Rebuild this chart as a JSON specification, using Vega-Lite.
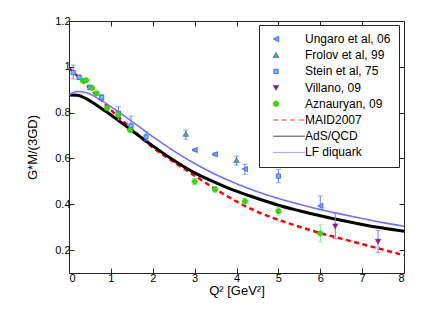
{
  "$schema": "https://vega.github.io/schema/vega-lite/v6.json",
  "width": 335,
  "height": 252,
  "padding": {"left": 69, "top": 21, "right": 27, "bottom": 37},
  "autosize": {"type": "none"},
  "background": "white",
  "config": {
    "view": {"stroke": "#262626", "strokeWidth": 1},
    "font": "Liberation Sans",
    "axis": {"labelFont": "Liberation Sans", "titleFont": "Liberation Sans", "labelColor": "#000", "titleColor": "#000", "domainColor": "#262626", "tickColor": "#262626", "grid": false, "labelFontSize": 11, "titleFontSize": 13, "titleFontWeight": "normal"},
    "legend": {"title": null, "orient": "none", "legendX": 190, "legendY": 4, "strokeColor": "#262626", "fillColor": "white", "padding": 8, "labelFont": "Liberation Sans", "labelFontSize": 12, "labelColor": "#000", "symbolSize": 30, "symbolOffset": 3, "labelOffset": 23, "rowPadding": 4.2}
  },
  "datasets": {
    "pts": [
      {"series": "Stein et al, 75", "q2": 0.10, "g": 0.975, "lo": 0.947, "hi": 1.008},
      {"series": "Stein et al, 75", "q2": 0.24, "g": 0.954, "lo": 0.944, "hi": 0.964},
      {"series": "Stein et al, 75", "q2": 0.50, "g": 0.910, "lo": 0.900, "hi": 0.920},
      {"series": "Stein et al, 75", "q2": 0.78, "g": 0.866, "lo": 0.853, "hi": 0.879},
      {"series": "Stein et al, 75", "q2": 1.18, "g": 0.797, "lo": 0.768, "hi": 0.826},
      {"series": "Stein et al, 75", "q2": 1.48, "g": 0.742, "lo": 0.717, "hi": 0.785},
      {"series": "Stein et al, 75", "q2": 1.84, "g": 0.694, "lo": 0.677, "hi": 0.717},
      {"series": "Stein et al, 75", "q2": 5.00, "g": 0.523, "lo": 0.494, "hi": 0.552},
      {"series": "Ungaro et al, 06", "q2": 3.00, "g": 0.637, "lo": 0.632, "hi": 0.642},
      {"series": "Ungaro et al, 06", "q2": 3.48, "g": 0.618, "lo": 0.612, "hi": 0.624},
      {"series": "Ungaro et al, 06", "q2": 4.20, "g": 0.554, "lo": 0.531, "hi": 0.575},
      {"series": "Ungaro et al, 06", "q2": 6.00, "g": 0.393, "lo": 0.375, "hi": 0.436},
      {"series": "Frolov et al, 99", "q2": 2.79, "g": 0.706, "lo": 0.684, "hi": 0.724},
      {"series": "Frolov et al, 99", "q2": 4.00, "g": 0.592, "lo": 0.571, "hi": 0.610},
      {"series": "Villano, 09", "q2": 6.36, "g": 0.305, "lo": 0.250, "hi": 0.360},
      {"series": "Villano, 09", "q2": 7.38, "g": 0.238, "lo": 0.189, "hi": 0.286},
      {"series": "Aznauryan, 09", "q2": 0.33, "g": 0.940, "lo": 0.935, "hi": 0.945},
      {"series": "Aznauryan, 09", "q2": 0.41, "g": 0.941, "lo": 0.936, "hi": 0.946},
      {"series": "Aznauryan, 09", "q2": 0.55, "g": 0.908, "lo": 0.903, "hi": 0.913},
      {"series": "Aznauryan, 09", "q2": 0.66, "g": 0.884, "lo": 0.879, "hi": 0.889},
      {"series": "Aznauryan, 09", "q2": 0.91, "g": 0.820, "lo": 0.814, "hi": 0.826},
      {"series": "Aznauryan, 09", "q2": 1.18, "g": 0.790, "lo": 0.784, "hi": 0.796},
      {"series": "Aznauryan, 09", "q2": 1.46, "g": 0.724, "lo": 0.716, "hi": 0.732},
      {"series": "Aznauryan, 09", "q2": 3.00, "g": 0.499, "lo": 0.486, "hi": 0.512},
      {"series": "Aznauryan, 09", "q2": 3.49, "g": 0.465, "lo": 0.452, "hi": 0.478},
      {"series": "Aznauryan, 09", "q2": 4.20, "g": 0.413, "lo": 0.400, "hi": 0.426},
      {"series": "Aznauryan, 09", "q2": 5.00, "g": 0.370, "lo": 0.352, "hi": 0.388},
      {"series": "Aznauryan, 09", "q2": 6.00, "g": 0.273, "lo": 0.237, "hi": 0.310}
    ],
    "curves": [
      {"series": "MAID2007", "q2": 0.0, "g": 0.995},
      {"series": "MAID2007", "q2": 0.25, "g": 0.950},
      {"series": "MAID2007", "q2": 0.5, "g": 0.905},
      {"series": "MAID2007", "q2": 0.75, "g": 0.858},
      {"series": "MAID2007", "q2": 1.0, "g": 0.812},
      {"series": "MAID2007", "q2": 1.5, "g": 0.728},
      {"series": "MAID2007", "q2": 2.0, "g": 0.648},
      {"series": "MAID2007", "q2": 2.5, "g": 0.585},
      {"series": "MAID2007", "q2": 3.0, "g": 0.525},
      {"series": "MAID2007", "q2": 3.5, "g": 0.466},
      {"series": "MAID2007", "q2": 4.0, "g": 0.412},
      {"series": "MAID2007", "q2": 4.5, "g": 0.367},
      {"series": "MAID2007", "q2": 5.0, "g": 0.332},
      {"series": "MAID2007", "q2": 5.5, "g": 0.302},
      {"series": "MAID2007", "q2": 6.0, "g": 0.274},
      {"series": "MAID2007", "q2": 6.5, "g": 0.250},
      {"series": "MAID2007", "q2": 7.0, "g": 0.226},
      {"series": "MAID2007", "q2": 7.5, "g": 0.202},
      {"series": "MAID2007", "q2": 8.0, "g": 0.178},
      {"series": "AdS/QCD", "q2": 0.0, "g": 0.877},
      {"series": "AdS/QCD", "q2": 0.2, "g": 0.876},
      {"series": "AdS/QCD", "q2": 0.4, "g": 0.862},
      {"series": "AdS/QCD", "q2": 0.6, "g": 0.840},
      {"series": "AdS/QCD", "q2": 0.8, "g": 0.815},
      {"series": "AdS/QCD", "q2": 1.0, "g": 0.790},
      {"series": "AdS/QCD", "q2": 1.5, "g": 0.722},
      {"series": "AdS/QCD", "q2": 2.0, "g": 0.655},
      {"series": "AdS/QCD", "q2": 2.5, "g": 0.592},
      {"series": "AdS/QCD", "q2": 3.0, "g": 0.537},
      {"series": "AdS/QCD", "q2": 3.5, "g": 0.495},
      {"series": "AdS/QCD", "q2": 4.0, "g": 0.457},
      {"series": "AdS/QCD", "q2": 4.5, "g": 0.425},
      {"series": "AdS/QCD", "q2": 5.0, "g": 0.396},
      {"series": "AdS/QCD", "q2": 5.5, "g": 0.372},
      {"series": "AdS/QCD", "q2": 6.0, "g": 0.350},
      {"series": "AdS/QCD", "q2": 6.5, "g": 0.330},
      {"series": "AdS/QCD", "q2": 7.0, "g": 0.312},
      {"series": "AdS/QCD", "q2": 7.5, "g": 0.296},
      {"series": "AdS/QCD", "q2": 8.0, "g": 0.282},
      {"series": "LF diquark", "q2": 0.0, "g": 0.877},
      {"series": "LF diquark", "q2": 0.2, "g": 0.892},
      {"series": "LF diquark", "q2": 0.4, "g": 0.888},
      {"series": "LF diquark", "q2": 0.6, "g": 0.872},
      {"series": "LF diquark", "q2": 0.8, "g": 0.850},
      {"series": "LF diquark", "q2": 1.0, "g": 0.826},
      {"series": "LF diquark", "q2": 1.5, "g": 0.762},
      {"series": "LF diquark", "q2": 2.0, "g": 0.695},
      {"series": "LF diquark", "q2": 2.5, "g": 0.633},
      {"series": "LF diquark", "q2": 3.0, "g": 0.578},
      {"series": "LF diquark", "q2": 3.5, "g": 0.530},
      {"series": "LF diquark", "q2": 4.0, "g": 0.490},
      {"series": "LF diquark", "q2": 4.5, "g": 0.455},
      {"series": "LF diquark", "q2": 5.0, "g": 0.425},
      {"series": "LF diquark", "q2": 5.5, "g": 0.400},
      {"series": "LF diquark", "q2": 6.0, "g": 0.377},
      {"series": "LF diquark", "q2": 6.5, "g": 0.357},
      {"series": "LF diquark", "q2": 7.0, "g": 0.338},
      {"series": "LF diquark", "q2": 7.5, "g": 0.320},
      {"series": "LF diquark", "q2": 8.0, "g": 0.304}
    ]
  },
  "layer": [
    {
      "data": {"name": "curves"},
      "transform": [{"filter": "datum.series == 'MAID2007'"}],
      "mark": {"type": "line", "color": "#ff0000", "strokeWidth": 2.5, "strokeDash": [5, 3.5], "interpolate": "monotone", "clip": true},
      "encoding": {
        "x": {"field": "q2", "type": "quantitative", "scale": {"domain": [0, 8], "nice": false, "zero": false},
          "axis": {"orient": "top", "labels": false, "title": null, "values": [0,1,2,3,4,5,6,7,8], "tickSize": -5, "domain": false}},
        "y": {"field": "g", "type": "quantitative", "scale": {"domain": [0.1, 1.2], "nice": false, "zero": false},
          "axis": {"orient": "right", "labels": false, "title": null, "values": [0.2,0.4,0.6,0.8,1,1.2], "tickSize": -5, "domain": false}}
      }
    },
    {
      "data": {"name": "curves"},
      "transform": [{"filter": "datum.series == 'AdS/QCD'"}],
      "mark": {"type": "line", "color": "#000000", "strokeWidth": 3, "interpolate": "monotone", "clip": true},
      "encoding": {
        "x": {"field": "q2", "type": "quantitative", "axis": null},
        "y": {"field": "g", "type": "quantitative", "axis": null}
      }
    },
    {
      "data": {"name": "curves"},
      "transform": [{"filter": "datum.series == 'LF diquark'"}],
      "mark": {"type": "line", "color": "#7070ff", "strokeWidth": 1.6, "interpolate": "monotone", "clip": true},
      "encoding": {
        "x": {"field": "q2", "type": "quantitative", "axis": null},
        "y": {"field": "g", "type": "quantitative", "axis": null}
      }
    },
    {
      "data": {"name": "pts"},
      "mark": {"type": "errorbar", "ticks": {"size": 5}, "thickness": 1},
      "encoding": {
        "x": {"field": "q2", "type": "quantitative", "axis": null},
        "y": {"field": "lo", "type": "quantitative", "axis": null},
        "y2": {"field": "hi"},
        "color": {"condition": {"test": "datum.series == 'Aznauryan, 09'", "value": "#90dd90"}, "value": "#7080ff"}
      }
    },
    {
      "data": {"name": "pts"},
      "mark": {"type": "point", "filled": true, "size": 28, "opacity": 1},
      "encoding": {
        "x": {"field": "q2", "type": "quantitative",
          "axis": {"orient": "bottom", "title": "Q² [GeV²]", "values": [0,1,2,3,4,5,6,7,8], "tickSize": -5, "labelPadding": 4, "titlePadding": 1, "domain": false}},
        "y": {"field": "g", "type": "quantitative",
          "axis": {"orient": "left", "title": "G*M/(3GD)", "values": [0.2,0.4,0.6,0.8,1,1.2], "format": "~g", "tickSize": -5, "labelPadding": 4, "titlePadding": 15, "domain": false}},
        "shape": {"field": "series", "type": "nominal", "title": null,
          "scale": {"domain": ["Ungaro et al, 06", "Frolov et al, 99", "Stein et al, 75", "Villano, 09", "Aznauryan, 09", "MAID2007", "AdS/QCD", "LF diquark"],
                    "range": ["M-1,0L1,-1L1,1Z", "M0,-1L1,0.8L-1,0.8Z", "M-0.8,-0.8H0.8V0.8H-0.8Z", "M0,1L1,-0.8L-1,-0.8Z", "M1,0A1,1,0,1,1,-1,0A1,1,0,1,1,1,0Z", "M-1,0H10.6", "M-1,0H10.6", "M-1,0H10.6"]}},
        "stroke": {"field": "series", "type": "nominal", "title": null,
          "scale": {"domain": ["Ungaro et al, 06", "Frolov et al, 99", "Stein et al, 75", "Villano, 09", "Aznauryan, 09", "MAID2007", "AdS/QCD", "LF diquark"],
                    "range": ["#3344ff", "#3344ff", "#3344ff", "#3344ff", "#33cc00", "#ff0000", "#000000", "#7070ff"]}},
        "strokeWidth": {"field": "series", "type": "nominal", "title": null,
          "scale": {"domain": ["Ungaro et al, 06", "Frolov et al, 99", "Stein et al, 75", "Villano, 09", "Aznauryan, 09", "MAID2007", "AdS/QCD", "LF diquark"],
                    "range": [0.8, 0.8, 0.8, 0.8, 0.8, 2.5, 3, 1.6]}},
        "strokeDash": {"field": "series", "type": "nominal", "title": null,
          "scale": {"domain": ["Ungaro et al, 06", "Frolov et al, 99", "Stein et al, 75", "Villano, 09", "Aznauryan, 09", "MAID2007", "AdS/QCD", "LF diquark"],
                    "range": [[1, 0], [1, 0], [1, 0], [1, 0], [1, 0], [5, 3.5], [1, 0], [1, 0]]}},
        "fill": {"field": "series", "type": "nominal", "title": null,
          "scale": {"domain": ["Ungaro et al, 06", "Frolov et al, 99", "Stein et al, 75", "Villano, 09", "Aznauryan, 09", "MAID2007", "AdS/QCD", "LF diquark"],
                    "range": ["#66aaff", "#44cc33", "#55ccff", "#cc0044", "#33dd00", "transparent", "transparent", "transparent"]}}
      }
    }
  ],
  "resolve": {"axis": {"x": "independent", "y": "independent"}}
}
